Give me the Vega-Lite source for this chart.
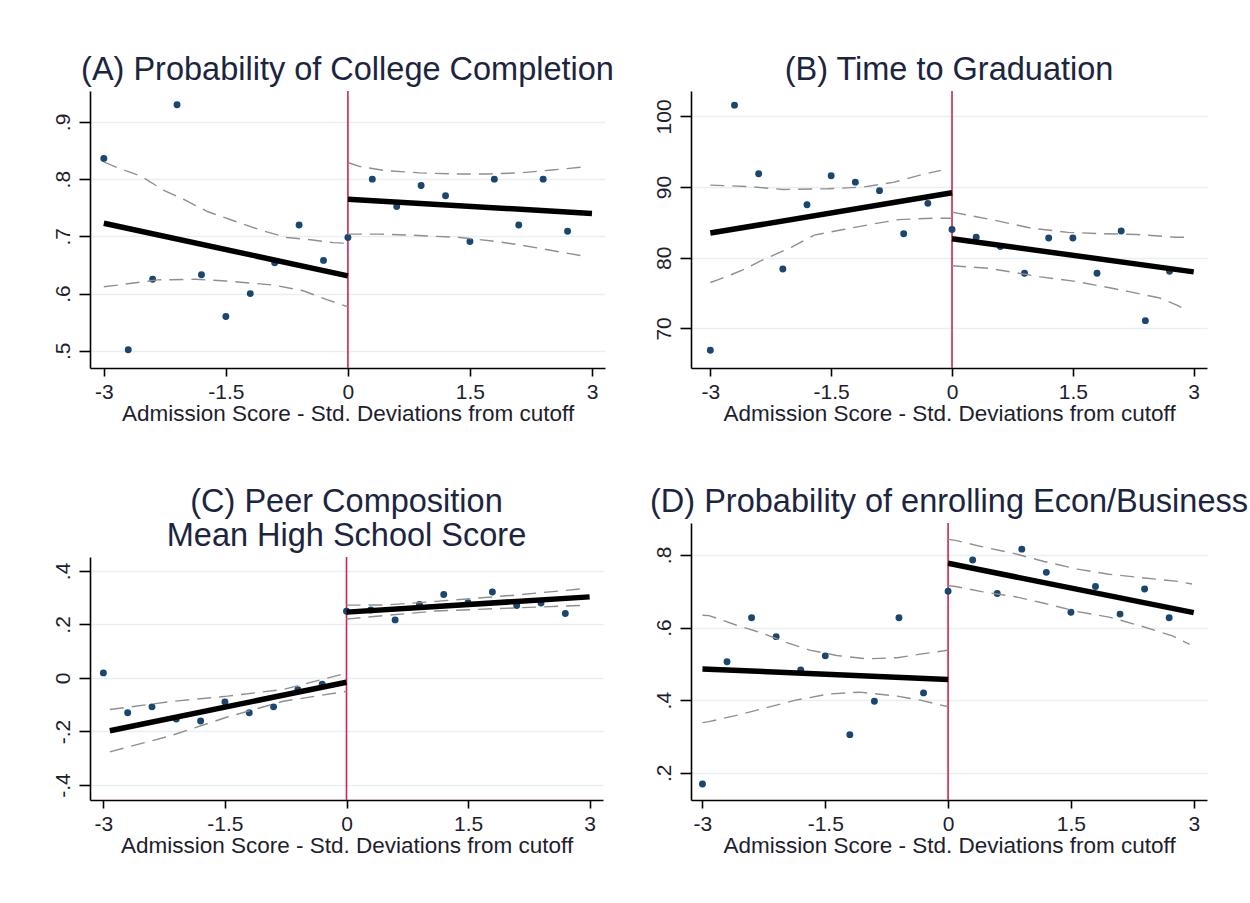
{
  "$schema": "https://vega.github.io/schema/vega-lite/v6.json",
  "background": "white",
  "padding": {"left": 52, "top": 53, "right": 2, "bottom": 5},
  "config": {
    "view": {"stroke": null},
    "font": "Liberation Sans",
    "axis": {"domainColor": "black", "domainWidth": 1.6, "tickColor": "black", "tickWidth": 1.6, "labelFont": "Liberation Sans", "labelFontSize": 21, "labelColor": "#1e1e2e", "titleFont": "Liberation Sans", "titleFontSize": 22.5, "titleFontWeight": "normal", "titleColor": "#1e1e2e", "gridColor": "#e6eff2", "gridWidth": 1.5},
    "axisX": {"grid": false, "tickSize": 8, "labelPadding": 5, "titlePadding": 0},
    "axisY": {"grid": true, "tickSize": 11, "labelAngle": 270, "labelPadding": 6},
    "title": {"font": "Liberation Sans", "fontSize": 32.5, "fontWeight": "normal", "color": "#1c2540", "anchor": "middle", "frame": "group", "offset": 4, "lineHeight": 34}
  },
  "datasets": {
    "pts": [
      {"panel": "A", "x": -3, "y": 0.836}, {"panel": "A", "x": -2.7, "y": 0.502}, {"panel": "A", "x": -2.4, "y": 0.625}, {"panel": "A", "x": -2.1, "y": 0.930}, {"panel": "A", "x": -1.8, "y": 0.633}, {"panel": "A", "x": -1.5, "y": 0.560}, {"panel": "A", "x": -1.2, "y": 0.600}, {"panel": "A", "x": -0.9, "y": 0.654}, {"panel": "A", "x": -0.6, "y": 0.720}, {"panel": "A", "x": -0.3, "y": 0.658}, {"panel": "A", "x": 0, "y": 0.698}, {"panel": "A", "x": 0.3, "y": 0.800}, {"panel": "A", "x": 0.6, "y": 0.752}, {"panel": "A", "x": 0.9, "y": 0.789}, {"panel": "A", "x": 1.2, "y": 0.771}, {"panel": "A", "x": 1.5, "y": 0.691}, {"panel": "A", "x": 1.8, "y": 0.800}, {"panel": "A", "x": 2.1, "y": 0.720}, {"panel": "A", "x": 2.4, "y": 0.800}, {"panel": "A", "x": 2.7, "y": 0.709},
      {"panel": "B", "x": -3, "y": 66.9}, {"panel": "B", "x": -2.7, "y": 101.6}, {"panel": "B", "x": -2.4, "y": 91.9}, {"panel": "B", "x": -2.1, "y": 78.4}, {"panel": "B", "x": -1.8, "y": 87.5}, {"panel": "B", "x": -1.5, "y": 91.6}, {"panel": "B", "x": -1.2, "y": 90.7}, {"panel": "B", "x": -0.9, "y": 89.5}, {"panel": "B", "x": -0.6, "y": 83.4}, {"panel": "B", "x": -0.3, "y": 87.7}, {"panel": "B", "x": 0, "y": 84.0}, {"panel": "B", "x": 0.3, "y": 82.9}, {"panel": "B", "x": 0.6, "y": 81.6}, {"panel": "B", "x": 0.9, "y": 77.8}, {"panel": "B", "x": 1.2, "y": 82.8}, {"panel": "B", "x": 1.5, "y": 82.8}, {"panel": "B", "x": 1.8, "y": 77.8}, {"panel": "B", "x": 2.1, "y": 83.8}, {"panel": "B", "x": 2.4, "y": 71.1}, {"panel": "B", "x": 2.7, "y": 78.1},
      {"panel": "C", "x": -3, "y": 0.019}, {"panel": "C", "x": -2.7, "y": -0.130}, {"panel": "C", "x": -2.4, "y": -0.108}, {"panel": "C", "x": -2.1, "y": -0.153}, {"panel": "C", "x": -1.8, "y": -0.161}, {"panel": "C", "x": -1.5, "y": -0.090}, {"panel": "C", "x": -1.2, "y": -0.130}, {"panel": "C", "x": -0.9, "y": -0.108}, {"panel": "C", "x": -0.6, "y": -0.044}, {"panel": "C", "x": -0.3, "y": -0.023}, {"panel": "C", "x": 0, "y": 0.249}, {"panel": "C", "x": 0.3, "y": 0.254}, {"panel": "C", "x": 0.6, "y": 0.217}, {"panel": "C", "x": 0.9, "y": 0.275}, {"panel": "C", "x": 1.2, "y": 0.312}, {"panel": "C", "x": 1.5, "y": 0.281}, {"panel": "C", "x": 1.8, "y": 0.321}, {"panel": "C", "x": 2.1, "y": 0.271}, {"panel": "C", "x": 2.4, "y": 0.280}, {"panel": "C", "x": 2.7, "y": 0.241},
      {"panel": "D", "x": -3, "y": 0.169}, {"panel": "D", "x": -2.7, "y": 0.506}, {"panel": "D", "x": -2.4, "y": 0.627}, {"panel": "D", "x": -2.1, "y": 0.575}, {"panel": "D", "x": -1.8, "y": 0.483}, {"panel": "D", "x": -1.5, "y": 0.522}, {"panel": "D", "x": -1.2, "y": 0.305}, {"panel": "D", "x": -0.9, "y": 0.397}, {"panel": "D", "x": -0.6, "y": 0.627}, {"panel": "D", "x": -0.3, "y": 0.420}, {"panel": "D", "x": 0, "y": 0.700}, {"panel": "D", "x": 0.3, "y": 0.786}, {"panel": "D", "x": 0.6, "y": 0.694}, {"panel": "D", "x": 0.9, "y": 0.816}, {"panel": "D", "x": 1.2, "y": 0.752}, {"panel": "D", "x": 1.5, "y": 0.642}, {"panel": "D", "x": 1.8, "y": 0.713}, {"panel": "D", "x": 2.1, "y": 0.637}, {"panel": "D", "x": 2.4, "y": 0.706}, {"panel": "D", "x": 2.7, "y": 0.627}
    ],
    "fit": [
      {"panel": "A", "side": "L", "x": -3, "y": 0.723}, {"panel": "A", "side": "L", "x": 0, "y": 0.631}, {"panel": "A", "side": "R", "x": 0, "y": 0.765}, {"panel": "A", "side": "R", "x": 3, "y": 0.740},
      {"panel": "B", "side": "L", "x": -3, "y": 83.5}, {"panel": "B", "side": "L", "x": 0, "y": 89.2}, {"panel": "B", "side": "R", "x": 0, "y": 82.7}, {"panel": "B", "side": "R", "x": 3, "y": 78.0},
      {"panel": "C", "side": "L", "x": -2.92, "y": -0.197}, {"panel": "C", "side": "L", "x": 0, "y": -0.016}, {"panel": "C", "side": "R", "x": 0, "y": 0.246}, {"panel": "C", "side": "R", "x": 3, "y": 0.303},
      {"panel": "D", "side": "L", "x": -3, "y": 0.486}, {"panel": "D", "side": "L", "x": 0, "y": 0.457}, {"panel": "D", "side": "R", "x": 0, "y": 0.777}, {"panel": "D", "side": "R", "x": 3, "y": 0.641}
    ],
    "ci": [
      {"panel": "A", "grp": "LU", "x": -3, "y": 0.830}, {"panel": "A", "grp": "LU", "x": -2.85, "y": 0.821}, {"panel": "A", "grp": "LU", "x": -2.54, "y": 0.805}, {"panel": "A", "grp": "LU", "x": -2.27, "y": 0.781}, {"panel": "A", "grp": "LU", "x": -2.01, "y": 0.764}, {"panel": "A", "grp": "LU", "x": -1.72, "y": 0.743}, {"panel": "A", "grp": "LU", "x": -1.38, "y": 0.726}, {"panel": "A", "grp": "LU", "x": -1.05, "y": 0.710}, {"panel": "A", "grp": "LU", "x": -0.75, "y": 0.698}, {"panel": "A", "grp": "LU", "x": -0.46, "y": 0.694}, {"panel": "A", "grp": "LU", "x": -0.18, "y": 0.689}, {"panel": "A", "grp": "LU", "x": 0, "y": 0.688},
      {"panel": "A", "grp": "LL", "x": -3, "y": 0.612}, {"panel": "A", "grp": "LL", "x": -2.82, "y": 0.615}, {"panel": "A", "grp": "LL", "x": -2.34, "y": 0.624}, {"panel": "A", "grp": "LL", "x": -1.87, "y": 0.625}, {"panel": "A", "grp": "LL", "x": -1.5, "y": 0.622}, {"panel": "A", "grp": "LL", "x": -0.92, "y": 0.615}, {"panel": "A", "grp": "LL", "x": -0.55, "y": 0.605}, {"panel": "A", "grp": "LL", "x": -0.25, "y": 0.589}, {"panel": "A", "grp": "LL", "x": 0, "y": 0.577},
      {"panel": "A", "grp": "RU", "x": 0, "y": 0.829}, {"panel": "A", "grp": "RU", "x": 0.15, "y": 0.822}, {"panel": "A", "grp": "RU", "x": 0.45, "y": 0.815}, {"panel": "A", "grp": "RU", "x": 0.88, "y": 0.811}, {"panel": "A", "grp": "RU", "x": 1.31, "y": 0.809}, {"panel": "A", "grp": "RU", "x": 1.72, "y": 0.809}, {"panel": "A", "grp": "RU", "x": 2.12, "y": 0.811}, {"panel": "A", "grp": "RU", "x": 2.51, "y": 0.816}, {"panel": "A", "grp": "RU", "x": 2.88, "y": 0.821},
      {"panel": "A", "grp": "RL", "x": 0, "y": 0.704}, {"panel": "A", "grp": "RL", "x": 0.38, "y": 0.704}, {"panel": "A", "grp": "RL", "x": 0.8, "y": 0.702}, {"panel": "A", "grp": "RL", "x": 1.38, "y": 0.698}, {"panel": "A", "grp": "RL", "x": 1.77, "y": 0.692}, {"panel": "A", "grp": "RL", "x": 2.12, "y": 0.685}, {"panel": "A", "grp": "RL", "x": 2.44, "y": 0.677}, {"panel": "A", "grp": "RL", "x": 2.88, "y": 0.666},
      {"panel": "B", "grp": "LU", "x": -3, "y": 90.28}, {"panel": "B", "grp": "LU", "x": -2.54, "y": 90.09}, {"panel": "B", "grp": "LU", "x": -2.1, "y": 89.67}, {"panel": "B", "grp": "LU", "x": -1.54, "y": 89.76}, {"panel": "B", "grp": "LU", "x": -1.11, "y": 90.0}, {"panel": "B", "grp": "LU", "x": -0.73, "y": 90.66}, {"panel": "B", "grp": "LU", "x": -0.38, "y": 91.75}, {"panel": "B", "grp": "LU", "x": -0.14, "y": 92.36},
      {"panel": "B", "grp": "LL", "x": -3, "y": 76.5}, {"panel": "B", "grp": "LL", "x": -2.9, "y": 76.9}, {"panel": "B", "grp": "LL", "x": -2.61, "y": 78.2}, {"panel": "B", "grp": "LL", "x": -2.37, "y": 79.6}, {"panel": "B", "grp": "LL", "x": -1.99, "y": 81.5}, {"panel": "B", "grp": "LL", "x": -1.71, "y": 83.2}, {"panel": "B", "grp": "LL", "x": -1.35, "y": 84.0}, {"panel": "B", "grp": "LL", "x": -0.97, "y": 84.8}, {"panel": "B", "grp": "LL", "x": -0.66, "y": 85.4}, {"panel": "B", "grp": "LL", "x": -0.23, "y": 85.6}, {"panel": "B", "grp": "LL", "x": 0, "y": 85.6},
      {"panel": "B", "grp": "RU", "x": 0, "y": 86.46}, {"panel": "B", "grp": "RU", "x": 0.49, "y": 85.4}, {"panel": "B", "grp": "RU", "x": 0.98, "y": 84.2}, {"panel": "B", "grp": "RU", "x": 1.44, "y": 83.6}, {"panel": "B", "grp": "RU", "x": 1.86, "y": 83.4}, {"panel": "B", "grp": "RU", "x": 2.29, "y": 83.3}, {"panel": "B", "grp": "RU", "x": 2.77, "y": 82.9}, {"panel": "B", "grp": "RU", "x": 2.89, "y": 82.9},
      {"panel": "B", "grp": "RL", "x": 0, "y": 78.87}, {"panel": "B", "grp": "RL", "x": 0.46, "y": 78.5}, {"panel": "B", "grp": "RL", "x": 1.1, "y": 77.3}, {"panel": "B", "grp": "RL", "x": 1.51, "y": 76.7}, {"panel": "B", "grp": "RL", "x": 1.89, "y": 75.9}, {"panel": "B", "grp": "RL", "x": 2.2, "y": 75.2}, {"panel": "B", "grp": "RL", "x": 2.58, "y": 74.3}, {"panel": "B", "grp": "RL", "x": 2.79, "y": 73.3}, {"panel": "B", "grp": "RL", "x": 2.86, "y": 72.9},
      {"panel": "C", "grp": "LU", "x": -2.92, "y": -0.118}, {"panel": "C", "grp": "LU", "x": -2.16, "y": -0.088}, {"panel": "C", "grp": "LU", "x": -1.47, "y": -0.068}, {"panel": "C", "grp": "LU", "x": -0.78, "y": -0.043}, {"panel": "C", "grp": "LU", "x": 0, "y": 0.018},
      {"panel": "C", "grp": "LL", "x": -2.92, "y": -0.276}, {"panel": "C", "grp": "LL", "x": -2.16, "y": -0.215}, {"panel": "C", "grp": "LL", "x": -1.47, "y": -0.146}, {"panel": "C", "grp": "LL", "x": -0.78, "y": -0.087}, {"panel": "C", "grp": "LL", "x": 0, "y": -0.050},
      {"panel": "C", "grp": "RU", "x": 0, "y": 0.272}, {"panel": "C", "grp": "RU", "x": 0.5, "y": 0.273}, {"panel": "C", "grp": "RU", "x": 1.1, "y": 0.286}, {"panel": "C", "grp": "RU", "x": 2.1, "y": 0.310}, {"panel": "C", "grp": "RU", "x": 2.9, "y": 0.333},
      {"panel": "C", "grp": "RL", "x": 0, "y": 0.220}, {"panel": "C", "grp": "RL", "x": 0.5, "y": 0.234}, {"panel": "C", "grp": "RL", "x": 1.1, "y": 0.250}, {"panel": "C", "grp": "RL", "x": 2.1, "y": 0.262}, {"panel": "C", "grp": "RL", "x": 2.9, "y": 0.271},
      {"panel": "D", "grp": "LU", "x": -3, "y": 0.634}, {"panel": "D", "grp": "LU", "x": -2.92, "y": 0.633}, {"panel": "D", "grp": "LU", "x": -2.59, "y": 0.607}, {"panel": "D", "grp": "LU", "x": -2.26, "y": 0.584}, {"panel": "D", "grp": "LU", "x": -1.98, "y": 0.559}, {"panel": "D", "grp": "LU", "x": -1.69, "y": 0.538}, {"panel": "D", "grp": "LU", "x": -1.36, "y": 0.523}, {"panel": "D", "grp": "LU", "x": -1.0, "y": 0.514}, {"panel": "D", "grp": "LU", "x": -0.62, "y": 0.517}, {"panel": "D", "grp": "LU", "x": -0.36, "y": 0.526}, {"panel": "D", "grp": "LU", "x": -0.05, "y": 0.536}, {"panel": "D", "grp": "LU", "x": 0, "y": 0.538},
      {"panel": "D", "grp": "LL", "x": -3, "y": 0.338}, {"panel": "D", "grp": "LL", "x": -2.92, "y": 0.341}, {"panel": "D", "grp": "LL", "x": -2.55, "y": 0.360}, {"panel": "D", "grp": "LL", "x": -2.26, "y": 0.377}, {"panel": "D", "grp": "LL", "x": -1.86, "y": 0.400}, {"panel": "D", "grp": "LL", "x": -1.46, "y": 0.417}, {"panel": "D", "grp": "LL", "x": -1.08, "y": 0.422}, {"panel": "D", "grp": "LL", "x": -0.62, "y": 0.411}, {"panel": "D", "grp": "LL", "x": -0.34, "y": 0.400}, {"panel": "D", "grp": "LL", "x": 0, "y": 0.382},
      {"panel": "D", "grp": "RU", "x": 0, "y": 0.843}, {"panel": "D", "grp": "RU", "x": 0.09, "y": 0.840}, {"panel": "D", "grp": "RU", "x": 0.41, "y": 0.823}, {"panel": "D", "grp": "RU", "x": 0.79, "y": 0.805}, {"panel": "D", "grp": "RU", "x": 1.17, "y": 0.782}, {"panel": "D", "grp": "RU", "x": 1.58, "y": 0.761}, {"panel": "D", "grp": "RU", "x": 1.96, "y": 0.747}, {"panel": "D", "grp": "RU", "x": 2.34, "y": 0.738}, {"panel": "D", "grp": "RU", "x": 2.81, "y": 0.727}, {"panel": "D", "grp": "RU", "x": 2.98, "y": 0.720},
      {"panel": "D", "grp": "RL", "x": 0, "y": 0.715}, {"panel": "D", "grp": "RL", "x": 0.09, "y": 0.713}, {"panel": "D", "grp": "RL", "x": 0.41, "y": 0.699}, {"panel": "D", "grp": "RL", "x": 0.82, "y": 0.685}, {"panel": "D", "grp": "RL", "x": 1.17, "y": 0.667}, {"panel": "D", "grp": "RL", "x": 1.58, "y": 0.644}, {"panel": "D", "grp": "RL", "x": 1.98, "y": 0.628}, {"panel": "D", "grp": "RL", "x": 2.36, "y": 0.604}, {"panel": "D", "grp": "RL", "x": 2.74, "y": 0.577}, {"panel": "D", "grp": "RL", "x": 2.95, "y": 0.554}
    ],
    "cut": [{"x": 0}]
  },
  "spacing": 36,
  "hconcat": [
    {
      "spacing": 60,
      "vconcat": [
        {
          "width": 515, "height": 277,
          "title": {"text": "(A) Probability of College Completion"},
          "layer": [
            {"data": {"name": "cut"}, "mark": {"type": "rule", "color": "#d1234d", "strokeWidth": 1.6}, "encoding": {"x": {"field": "x", "type": "quantitative", "scale": {"domain": [-3.17, 3.16], "nice": false, "zero": false}}}},
            {"data": {"name": "pts"}, "transform": [{"filter": "datum.panel == 'A'"}], "mark": {"type": "circle", "size": 48, "color": "#1a476f", "opacity": 1},
             "encoding": {
               "x": {"field": "x", "type": "quantitative", "scale": {"domain": [-3.17, 3.16], "nice": false, "zero": false}, "axis": {"values": [-3, -1.5, 0, 1.5, 3], "labelExpr": "'' + datum.value", "title": "Admission Score - Std. Deviations from cutoff"}},
               "y": {"field": "y", "type": "quantitative", "scale": {"domain": [0.47, 0.954], "nice": false, "zero": false}, "axis": {"values": [0.5, 0.6, 0.7, 0.8, 0.9], "labelExpr": "datum.value == 0 ? '0' : (datum.value < 0 ? '-' + substring('' + (-datum.value), 1) : substring('' + datum.value, 1))", "title": null}}
             }},
            {"data": {"name": "ci"}, "transform": [{"filter": "datum.panel == 'A'"}], "mark": {"type": "line", "color": "#8f8f8f", "strokeWidth": 1.4, "strokeDash": [14, 8]},
             "encoding": {"x": {"field": "x", "type": "quantitative"}, "y": {"field": "y", "type": "quantitative"}, "detail": {"field": "grp"}}},
            {"data": {"name": "fit"}, "transform": [{"filter": "datum.panel == 'A'"}], "mark": {"type": "line", "color": "black", "strokeWidth": 5.5},
             "encoding": {"x": {"field": "x", "type": "quantitative"}, "y": {"field": "y", "type": "quantitative"}, "detail": {"field": "side"}}}
          ]
        },
        {
          "width": 513, "height": 243,
          "title": {"text": ["(C) Peer Composition", "Mean High School Score"]},
          "layer": [
            {"data": {"name": "cut"}, "mark": {"type": "rule", "color": "#d1234d", "strokeWidth": 1.6}, "encoding": {"x": {"field": "x", "type": "quantitative", "scale": {"domain": [-3.165, 3.165], "nice": false, "zero": false}}}},
            {"data": {"name": "pts"}, "transform": [{"filter": "datum.panel == 'C'"}], "mark": {"type": "circle", "size": 48, "color": "#1a476f", "opacity": 1},
             "encoding": {
               "x": {"field": "x", "type": "quantitative", "scale": {"domain": [-3.165, 3.165], "nice": false, "zero": false}, "axis": {"values": [-3, -1.5, 0, 1.5, 3], "labelExpr": "'' + datum.value", "title": "Admission Score - Std. Deviations from cutoff"}},
               "y": {"field": "y", "type": "quantitative", "scale": {"domain": [-0.456, 0.452], "nice": false, "zero": false}, "axis": {"values": [-0.4, -0.2, 0, 0.2, 0.4], "labelExpr": "datum.value == 0 ? '0' : (datum.value < 0 ? '-' + substring('' + (-datum.value), 1) : substring('' + datum.value, 1))", "title": null}}
             }},
            {"data": {"name": "ci"}, "transform": [{"filter": "datum.panel == 'C'"}], "mark": {"type": "line", "color": "#8f8f8f", "strokeWidth": 1.4, "strokeDash": [14, 8]},
             "encoding": {"x": {"field": "x", "type": "quantitative"}, "y": {"field": "y", "type": "quantitative"}, "detail": {"field": "grp"}}},
            {"data": {"name": "fit"}, "transform": [{"filter": "datum.panel == 'C'"}], "mark": {"type": "line", "color": "black", "strokeWidth": 5.5},
             "encoding": {"x": {"field": "x", "type": "quantitative"}, "y": {"field": "y", "type": "quantitative"}, "detail": {"field": "side"}}}
          ]
        }
      ]
    },
    {
      "spacing": 60,
      "vconcat": [
        {
          "width": 516, "height": 277,
          "title": {"text": "(B) Time to Graduation"},
          "layer": [
            {"data": {"name": "cut"}, "mark": {"type": "rule", "color": "#d1234d", "strokeWidth": 1.6}, "encoding": {"x": {"field": "x", "type": "quantitative", "scale": {"domain": [-3.24, 3.165], "nice": false, "zero": false}}}},
            {"data": {"name": "pts"}, "transform": [{"filter": "datum.panel == 'B'"}], "mark": {"type": "circle", "size": 48, "color": "#1a476f", "opacity": 1},
             "encoding": {
               "x": {"field": "x", "type": "quantitative", "scale": {"domain": [-3.24, 3.165], "nice": false, "zero": false}, "axis": {"values": [-3, -1.5, 0, 1.5, 3], "labelExpr": "'' + datum.value", "title": "Admission Score - Std. Deviations from cutoff"}},
               "y": {"field": "y", "type": "quantitative", "scale": {"domain": [64.4, 103.6], "nice": false, "zero": false}, "axis": {"values": [70, 80, 90, 100], "labelExpr": "'' + datum.value", "title": null}}
             }},
            {"data": {"name": "ci"}, "transform": [{"filter": "datum.panel == 'B'"}], "mark": {"type": "line", "color": "#8f8f8f", "strokeWidth": 1.4, "strokeDash": [14, 8]},
             "encoding": {"x": {"field": "x", "type": "quantitative"}, "y": {"field": "y", "type": "quantitative"}, "detail": {"field": "grp"}}},
            {"data": {"name": "fit"}, "transform": [{"filter": "datum.panel == 'B'"}], "mark": {"type": "line", "color": "black", "strokeWidth": 5.5},
             "encoding": {"x": {"field": "x", "type": "quantitative"}, "y": {"field": "y", "type": "quantitative"}, "detail": {"field": "side"}}}
          ]
        },
        {
          "width": 516, "height": 277,
          "title": {"text": "(D) Probability of enrolling Econ/Business"},
          "layer": [
            {"data": {"name": "cut"}, "mark": {"type": "rule", "color": "#d1234d", "strokeWidth": 1.6}, "encoding": {"x": {"field": "x", "type": "quantitative", "scale": {"domain": [-3.14, 3.162], "nice": false, "zero": false}}}},
            {"data": {"name": "pts"}, "transform": [{"filter": "datum.panel == 'D'"}], "mark": {"type": "circle", "size": 48, "color": "#1a476f", "opacity": 1},
             "encoding": {
               "x": {"field": "x", "type": "quantitative", "scale": {"domain": [-3.14, 3.162], "nice": false, "zero": false}, "axis": {"values": [-3, -1.5, 0, 1.5, 3], "labelExpr": "'' + datum.value", "title": "Admission Score - Std. Deviations from cutoff"}},
               "y": {"field": "y", "type": "quantitative", "scale": {"domain": [0.125, 0.888], "nice": false, "zero": false}, "axis": {"values": [0.2, 0.4, 0.6, 0.8], "labelExpr": "datum.value == 0 ? '0' : (datum.value < 0 ? '-' + substring('' + (-datum.value), 1) : substring('' + datum.value, 1))", "title": null}}
             }},
            {"data": {"name": "ci"}, "transform": [{"filter": "datum.panel == 'D'"}], "mark": {"type": "line", "color": "#8f8f8f", "strokeWidth": 1.4, "strokeDash": [14, 8]},
             "encoding": {"x": {"field": "x", "type": "quantitative"}, "y": {"field": "y", "type": "quantitative"}, "detail": {"field": "grp"}}},
            {"data": {"name": "fit"}, "transform": [{"filter": "datum.panel == 'D'"}], "mark": {"type": "line", "color": "black", "strokeWidth": 5.5},
             "encoding": {"x": {"field": "x", "type": "quantitative"}, "y": {"field": "y", "type": "quantitative"}, "detail": {"field": "side"}}}
          ]
        }
      ]
    }
  ]
}
